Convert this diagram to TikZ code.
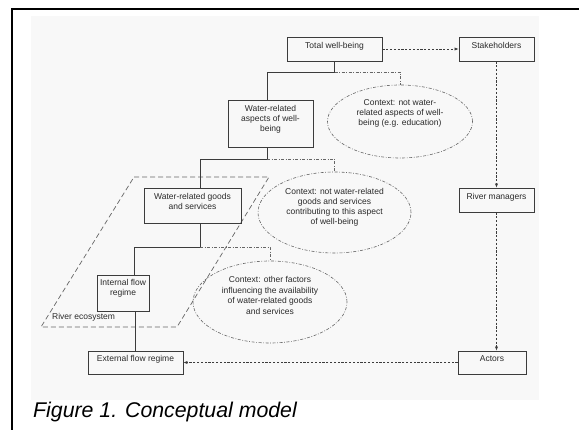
\documentclass[tikz,border=0pt]{standalone}
\usepackage{fontspec}
\setmainfont{Liberation Sans}
\usetikzlibrary{arrows.meta}
\usetikzlibrary{shapes.geometric}
\usetikzlibrary{calc}
\definecolor{ink}{HTML}{2A2A2A}
\definecolor{lne}{HTML}{3C3C3C}
\definecolor{soft}{HTML}{666666}
\definecolor{paper}{HTML}{F8F8F8}
\tikzset{tx/.style={font=\fontsize{8.5}{10.3}\selectfont, text=ink, inner sep=0pt}}
\tikzset{ln/.style={tx, anchor=base}}
\tikzset{bx/.style={draw=lne, line width=0.8pt, inner sep=0pt}}
\tikzset{ctx/.style={draw=soft, ellipse, inner sep=0pt, line width=0.6pt, dash pattern=on 3pt off 1.6pt on 0.8pt off 1.6pt}}
\tikzset{ctxl/.style={draw=soft, line width=0.6pt, dash pattern=on 3pt off 1.6pt on 0.8pt off 1.6pt}}
\tikzset{tree/.style={draw=lne, line width=0.8pt}}
\tikzset{dep/.style={draw=lne, line width=0.6pt, dash pattern=on 2.2pt off 1.6pt, -{Latex[length=4pt,width=3.2pt]}}}
\tikzset{eco/.style={draw=soft, line width=0.7pt, dash pattern=on 5pt off 3pt}}

\begin{document}
\begin{tikzpicture}[x=1pt,y=-1pt]
  \useasboundingbox (0,0) rectangle (579,430);
  \fill[paper] (31,16) rectangle (539,400);
  \draw[line width=2pt] (12,430) -- (12,9) -- (579,9);
  % river ecosystem
  \draw[eco] (134,177) -- (269,177) -- (177,327) -- (41,327) -- cycle;
  \node[tx, anchor=west] (river) at (52,317) {River ecosystem};
  % boxes
  \node[bx, minimum width=95pt, minimum height=24pt] (total) at (334.5,49) {};
  \node[bx, minimum width=75pt, minimum height=24pt] (stake) at (496.5,49) {};
  \node[bx, minimum width=85pt, minimum height=47pt] (aspect) at (270.5,123.5) {};
  \node[bx, minimum width=97pt, minimum height=35pt] (goods) at (192.5,205.5) {};
  \node[bx, minimum width=52pt, minimum height=36pt] (intern) at (123,293) {};
  \node[bx, minimum width=95pt, minimum height=23pt] (extern) at (135.5,362.5) {};
  \node[bx, minimum width=75pt, minimum height=24pt] (manag) at (496.5,200) {};
  \node[bx, minimum width=68pt, minimum height=23pt] (actor) at (492,362.5) {};
  \node[ln] (totalt) at ($(total)+(0,-0.5)$) {Total well-being};
  \node[ln] (staket) at ($(stake)+(0,-0.5)$) {Stakeholders};
  \node[ln] (externt) at ($(extern)+(0,-0.5)$) {External flow regime};
  \node[ln] (managt) at ($(manag)+(0,-0.5)$) {River managers};
  \node[ln] (actort) at ($(actor)+(0,-0.5)$) {Actors};
  \foreach \txt [count=\i] in {Water-related,aspects of well-,being}
    \node[ln] (aspect-\i) at ($(aspect)+(0,{-21.8+10*\i})$) {\txt};
  \foreach \txt [count=\i] in {Water-related goods,and services}
    \node[ln] (goods-\i) at ($(goods)+(0,{-15.5+10*\i})$) {\txt};
  \foreach \txt [count=\i] in {Internal flow,regime}
    \node[ln] (intern-\i) at ($(intern)+(0,{-18.5+10.7*\i})$) {\txt};
  % context
  \node[ctx, minimum width=145pt, minimum height=73pt] (ctx1) at (400,121.5) {};
  \node[ctx, minimum width=153pt, minimum height=81pt] (ctx2) at (334.5,212.5) {};
  \node[ctx, minimum width=154pt, minimum height=82pt] (ctx3) at (270,302) {};
  \foreach \txt [count=\i] in {Context: not water-,related aspects of well-,being (e.g. education)}
    \node[ln] (ctx1-\i) at ($(ctx1)+(0,{-25.5+10*\i})$) {\txt};
  \foreach \txt [count=\i] in {Context: not water-related,goods and services,contributing to this aspect,of well-being}
    \node[ln] (ctx2-\i) at ($(ctx2)+(0,{-27.5+10*\i})$) {\txt};
  \foreach \txt [count=\i] in {Context: other factors,influencing the availability,of water-related goods,and services}
    \node[ln] (ctx3-\i) at ($(ctx3)+(0,{-29.5+10.5*\i})$) {\txt};
  % junctions
  \coordinate (j1) at (334.5,72);
  \coordinate (j2) at (267,159);
  \coordinate (j3) at (200,247);
  \draw[tree] (total) -- (j1) -| (aspect.north -| j2);
  \draw[tree] (aspect.south -| j2) -- (j2) -| (goods.north -| j3);
  \draw[tree] (goods.south -| j3) -- (j3) -| ([xshift=11pt]intern.north);
  \draw[tree] (extern.north) -- (extern.north |- intern.south);
  \draw[ctxl] (j1) -| (ctx1.north);
  \draw[ctxl] (j2) -| (ctx2.north);
  \draw[ctxl] (j3) -| (ctx3.north);
  % actors
  \draw[dep] (total) -- (stake);
  \draw[dep] (stake) -- (manag);
  \draw[dep] (manag.south) -- (manag.south |- actor.north);
  \draw[dep] (actor) -- (extern);
  \node[font=\fontsize{21.3}{24}\selectfont\itshape, anchor=base west, inner sep=0pt] (cap) at (33,418) {Figure 1. Conceptual model};
\end{tikzpicture}
\end{document}
